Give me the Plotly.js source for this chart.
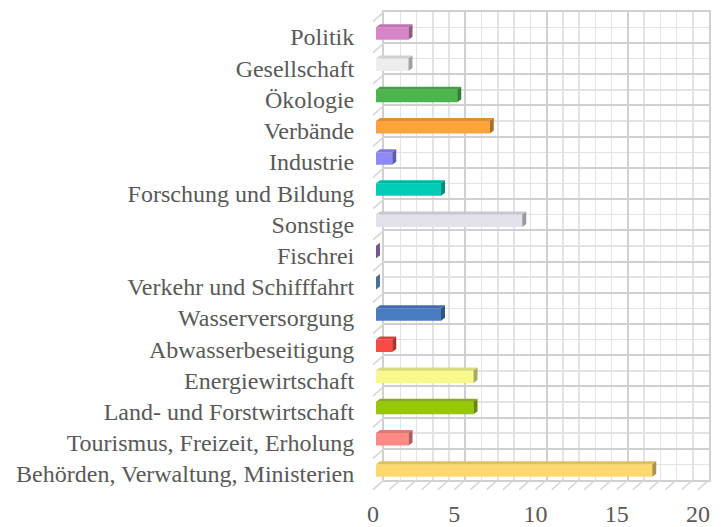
<!DOCTYPE html>
<html>
<head>
<meta charset="utf-8">
<script src="https://cdn.plot.ly/plotly-3.0.1.min.js"></script>
<style>html,body{margin:0;padding:0;background:#fff;}#chart{width:722px;height:527px;}</style>
</head>
<body>
<div id="chart"></div>
<script>
// ---- data (bottom to top) ----
const categories = [
  'Behörden, Verwaltung, Ministerien',
  'Tourismus, Freizeit, Erholung',
  'Land- und Forstwirtschaft',
  'Energiewirtschaft',
  'Abwasserbeseitigung',
  'Wasserversorgung',
  'Verkehr und Schifffahrt',
  'Fischrei',
  'Sonstige',
  'Forschung und Bildung',
  'Industrie',
  'Verbände',
  'Ökologie',
  'Gesellschaft',
  'Politik'
];
const values = [17, 2, 6, 6, 1, 4, 0, 0, 9, 4, 1, 7, 5, 2, 2];
const barColors = [
  '#FFD96F', '#FF8985', '#98C70A', '#F8F88C', '#F94B45',
  '#4A7DC0', '#6FA6DC', '#B57CCC', '#E3E1EA', '#00CDB8',
  '#8F8AF8', '#FCA33C', '#4DB54D', '#EDEDED', '#D884C8'
];
const xTickVals = [0, 5, 10, 15, 20];
const xTickText = ['0', '5', '10', '15', '20'];

// ---- geometry (pixels) ----
const W = 722, H = 527;
const X0 = 373, SX = 16.25;      // front plane: px of value 0, px per unit
const Y0 = 474, SY = 31.21;      // front plane: px of category 0 centre, px per category
const DPX = 11, DPY = 9.6;       // depth offset of back wall (right, up)
const fxr = [-0.6, 21.0], fyr = [-0.75, 15.0];
const fL = X0 + fxr[0]*SX, fR = X0 + fxr[1]*SX;
const fT = Y0 - fyr[1]*SY, fB = Y0 - fyr[0]*SY;
const bL = X0 + DPX, bR = bL + 20*SX;
const bB = Y0 + 0.5*SY - DPY, bT = Y0 - 14.5*SY - DPY;
const DX = DPX/SX, DY = DPY/SY;  // depth in data units
// bars: small depth, placed a bit behind the front plane
const BX0 = 3/SX, BY0 = 3.5/SY, BW = 12.5/SY;
const BDX = 4/SX, BDY = 3/SY;

function shade(hex, f) {
  const n = parseInt(hex.slice(1), 16);
  let r = (n >> 16) & 255, g = (n >> 8) & 255, b = n & 255;
  r = Math.round(r*f); g = Math.round(g*f); b = Math.round(b*f);
  return 'rgb(' + r + ',' + g + ',' + b + ')';
}

const idx = categories.map((c, i) => i);
const traces = [];

// invisible trace so that the back-wall subplot is drawn
traces.push({type: 'scatter', mode: 'markers', x: [0], y: [0], xaxis: 'x', yaxis: 'y',
  marker: {opacity: 0}, hoverinfo: 'skip', showlegend: false});

// floor diagonals
const flx = [], fly = [];
for (let v = 0; v <= 20; v++) { flx.push(v, v + DX, null); fly.push(-0.5, -0.5 + DY, null); }
// left wall diagonals
for (let k = 0; k <= categories.length; k++) { flx.push(0, DX, null); fly.push(k - 0.5, k - 0.5 + DY, null); }
traces.push({type: 'scatter', mode: 'lines', x: flx, y: fly, xaxis: 'x2', yaxis: 'y2',
  line: {color: '#D6D6D6', width: 1.6}, hoverinfo: 'skip', showlegend: false});

// front faces
traces.push({type: 'bar', orientation: 'h', xaxis: 'x2', yaxis: 'y2',
  y: idx.map(i => i + BY0), x: values, base: values.map(() => BX0), width: BW,
  marker: {color: barColors, line: {width: 0}}, hoverinfo: 'skip', showlegend: false});

// top and side faces
idx.forEach(i => {
  const v = values[i];
  const yb = i + BY0 - BW/2, yt = i + BY0 + BW/2;
  const x1 = BX0 + v;
  if (v > 0) {
    traces.push({type: 'scatter', mode: 'lines', xaxis: 'x2', yaxis: 'y2', fill: 'toself',
      x: [BX0, x1, x1 + BDX, BX0 + BDX, BX0], y: [yt, yt, yt + BDY, yt + BDY, yt],
      fillcolor: shade(barColors[i], 0.88), line: {width: 0}, hoverinfo: 'skip', showlegend: false});
  }
  traces.push({type: 'scatter', mode: 'lines', xaxis: 'x2', yaxis: 'y2', fill: 'toself',
    x: [x1, x1 + BDX, x1 + BDX, x1, x1], y: [yb, yb + BDY, yt + BDY, yt, yb],
    fillcolor: shade(barColors[i], 0.68), line: {width: 0}, hoverinfo: 'skip', showlegend: false});
});

const font = {family: '"Liberation Serif", "Times New Roman", serif', size: 24, color: '#595959'};
const gridMajor = '#D0D0D0', gridMinor = '#E3E3E3';

const layout = {
  width: W, height: H,
  margin: {l: 0, r: 0, t: 0, b: 0},
  paper_bgcolor: '#FFFFFF', plot_bgcolor: 'rgba(0,0,0,0)',
  showlegend: false, font: font,
  xaxis: {domain: [bL/W, bR/W], range: [0, 20], anchor: 'y',
    tickmode: 'linear', tick0: 0, dtick: 5, showticklabels: false, ticks: '',
    showgrid: true, gridcolor: gridMajor, gridwidth: 2, zeroline: false,
    showline: true, mirror: true, linecolor: gridMajor, linewidth: 2,
    minor: {tick0: 0, dtick: 1, showgrid: true, gridcolor: gridMinor, gridwidth: 1.5, ticks: ''},
    fixedrange: true},
  yaxis: {domain: [1 - bB/H, 1 - bT/H], range: [-0.5, 14.5], anchor: 'x',
    tickmode: 'linear', tick0: -0.5, dtick: 1, showticklabels: false, ticks: '',
    showgrid: true, gridcolor: gridMajor, gridwidth: 2, zeroline: false,
    showline: true, mirror: true, linecolor: gridMajor, linewidth: 2,
    minor: {tick0: 0, dtick: 1, showgrid: true, gridcolor: gridMinor, gridwidth: 1.5, ticks: ''},
    fixedrange: true},
  xaxis2: {domain: [fL/W, fR/W], range: fxr, anchor: 'y2',
    tickmode: 'array', tickvals: xTickVals, ticktext: xTickText, ticks: '',
    ticklabelstandoff: 0, tickfont: font,
    showgrid: false, zeroline: false, showline: false, fixedrange: true},
  yaxis2: {domain: [1 - fB/H, 1 - fT/H], range: fyr, anchor: 'x2',
    tickmode: 'array', tickvals: idx, ticktext: categories, ticks: '',
    ticklabelstandoff: 8, tickfont: font,
    showgrid: false, zeroline: false, showline: false, fixedrange: true}
};

Plotly.newPlot('chart', traces, layout, {staticPlot: true, displayModeBar: false});
</script>
</body>
</html>
